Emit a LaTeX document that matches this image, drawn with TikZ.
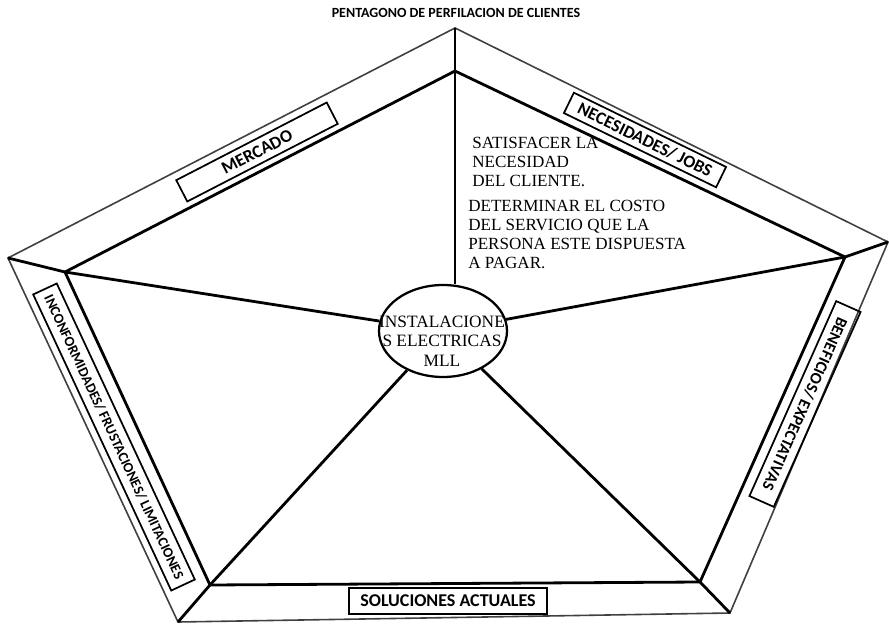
\documentclass[tikz,border=0pt]{standalone}
\usepackage{fontspec}
\setmainfont{Liberation Serif}
\newfontfamily\calibri{Carlito}
\usetikzlibrary{shapes.geometric}

\tikzset{
  tag/.style={draw, line width=1.3pt, inner sep=0pt, font=\calibri\bfseries},
  rim/.style={line width=1.2pt, black!75},
  frame/.style={line width=2.1pt},
}

\begin{document}
\begin{tikzpicture}[x=0.75pt, y=-0.75pt]
    \useasboundingbox (0,0) rectangle (889,624);

    % Corners of the two pentagons
    \coordinate (otop) at (455,28);
    \coordinate (oright) at (888,242);
    \coordinate (obr) at (730,613);
    \coordinate (obl) at (178,622);
    \coordinate (oleft) at (8,258);
    \coordinate (itop) at (455,71);
    \coordinate (iright) at (845,257);
    \coordinate (ibr) at (700,582);
    \coordinate (ibl) at (210,585);
    \coordinate (ileft) at (65,272);

    % Draw the pentagons
    \draw[rim] (otop) -- (oright) -- (obr) -- (obl) -- (oleft) -- cycle;
    \draw[frame] (itop) -- (iright) -- (ibr) -- (ibl) -- (ileft) -- cycle;

    % Join the corners
    \draw[frame] (otop) -- (itop);
    \draw[frame] (oright) -- (iright);
    \draw[frame] (obr) -- (ibr);
    \draw[frame] (obl) -- (ibl);
    \draw[frame] (oleft) -- (ileft);

    % Centre
    \node[ellipse, draw, line width=1.7pt, minimum width=96pt, minimum height=69pt] (core) at (443,331) {};
    \node[align=center, font=\fontsize{13}{14.6}\selectfont] (coretext) at (442,341) {INSTALACIONE\\S ELECTRICAS\\MLL};

    % Spokes
    \draw[frame] (itop) -- (itop |- core.north);
    \draw[frame] (iright) -- (core);
    \draw[frame] (ibr) -- (core);
    \draw[frame] (ibl) -- (core);
    \draw[frame] (ileft) -- (core);

    % Label the sides
    \node[tag, rotate=27.3, minimum width=127pt, minimum height=18pt, font=\calibri\bfseries\fontsize{13.3}{14}\selectfont] (market) at (257,152) {MERCADO};
    \node[tag, rotate=-26, minimum width=127pt, minimum height=17pt, font=\calibri\bfseries\fontsize{13.2}{14}\selectfont] (needs) at (645,140) {NECESIDADES/ JOBS};
    \node[tag, rotate=-114, minimum width=160pt, minimum height=20pt, font=\calibri\bfseries\fontsize{12.3}{13}\selectfont] (gains) at (805,404) {BENEFICIOS/ EXPECTATIVAS};
    \node[tag, minimum width=149pt, minimum height=19.5pt, font=\calibri\bfseries\fontsize{13.5}{14}\selectfont] (solutions) at (448,601) {SOLUCIONES ACTUALES};
    \node[tag, rotate=-65, minimum width=245pt, minimum height=19.5pt, font=\calibri\bfseries\fontsize{10.7}{11}\selectfont] (pains) at (114,437) {INCONFORMIDADES/ FRUSTACIONES/ LIMITACIONES};

    % Title and notes
    \node[font=\calibri\bfseries\fontsize{10.5}{12}\selectfont] (title) at (456,13) {PENTAGONO DE PERFILACION DE CLIENTES};
    \node[anchor=north west, align=left, inner sep=0pt, font=\fontsize{12.8}{14.3}\selectfont] (goal) at (472,137) {SATISFACER LA\\NECESIDAD\\DEL CLIENTE.};
    \node[anchor=north west, align=left, inner sep=0pt, font=\fontsize{12.8}{14.3}\selectfont] (price) at (468,200) {DETERMINAR EL COSTO\\DEL SERVICIO QUE LA\\PERSONA ESTE DISPUESTA\\A PAGAR.};
\end{tikzpicture}
\end{document}
